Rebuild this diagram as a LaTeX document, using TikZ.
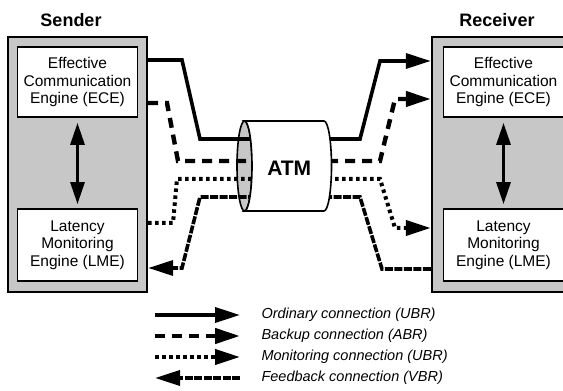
\documentclass[tikz,border=0pt]{standalone}
\usepackage{fontspec}
\setmainfont{Liberation Sans}
\usetikzlibrary{arrows.meta,calc}

\tikzset{
  station/.style={draw,line width=2.4pt,fill=black!22,minimum width=139pt,minimum height=255pt},
  engine/.style={draw,line width=1.8pt,fill=white,minimum width=120pt,minimum height=70pt,
    align=center,font=\fontsize{15.5}{17.5}\selectfont},
  head/.style={font=\fontsize{18}{20}\selectfont\bfseries},
  arrowed/.style={-{Triangle[length=25pt,width=15pt]}},
  ordinary/.style={arrowed,line width=3.6pt},
  backup/.style={arrowed,line width=4.4pt,dash pattern=on 10pt off 7pt},
  monitor/.style={arrowed,line width=4pt,dash pattern=on 3.5pt off 3.5pt},
  feedback/.style={arrowed,line width=3.6pt,dash pattern=on 8pt off 1.5pt},
  key/.style={anchor=west,font=\fontsize{14.5}{16}\selectfont\itshape}
}

\begin{document}
\begin{tikzpicture}[x=1pt,y=1pt]
 \path[use as bounding box,clip] (0,0) rectangle (563,391);

 % both ends of the link
 \node[station] (sender) at (77.5,226.5) {};
 \node[station] (receiver) at (501.5,226.5) {};
 \node[head] (sendtitle) at (71,371) {Sender};
 \node[head] (rectitle) at (497,371) {Receiver};
 \node[engine] (sece) at (77.5,309) {Effective\\Communication\\Engine (ECE)};
 \node[engine,minimum height=72pt] (slme) at (77.5,146) {Latency\\Monitoring\\Engine (LME)};
 \node[engine] (rece) at (503.5,309) {Effective\\Communication\\Engine (ECE)};
 \node[engine,minimum height=72pt] (rlme) at (503.5,146) {Latency\\Monitoring\\Engine (LME)};
 \foreach \s/\t in {sece/slme,rece/rlme}
  \draw[line width=3pt,{Triangle[length=22pt,width=14pt]}-{Triangle[length=22pt,width=14pt]},
   shorten <=5pt,shorten >=4pt] (\s) -- (\t);

 % ATM pipe, open end first
 \coordinate (cylL) at (244.5,225);
 \coordinate (cylR) at (324,225);
 \filldraw[fill=black!22,line width=1.6pt] (cylL) ellipse [x radius=7.5,y radius=45];

 % connections through the pipe
 \draw[ordinary,-] ($(sender.east|-sece)+(0,22)$) -- (182,331) -- (200,252) -- (256,252);
 \draw[ordinary] (328,252) -- (360,252) -- (380,330) -- ($(receiver.west|-rece)+(0,21)$);
 \draw[backup,-] ($(sender.east|-sece)+(0,-21)$) -- (167,288) -- (178,230) -- (256,230);
 \draw[backup] (328,230) -- (380,230) -- (395,292) -- ($(receiver.west|-rece)+(0,-17)$);
 \draw[monitor,-] ($(sender.east|-slme)+(0,22)$) -- (173,168) -- (177,212) -- (256,212);
 \draw[monitor] (328,212) -- (380,212) -- (395,163) -- ($(receiver.west|-rlme)+(0,17)$);
 \draw[feedback,-] ($(receiver.west|-rlme)+(0,-24)$) -- (382,122) -- (360,194) -- (328,194);
 \draw[feedback] (256,194) -- (200,194) -- (182,123) -- ($(sender.east|-slme)+(0,-23)$);

 \draw[fill=white,line width=1.6pt] ($(cylL)+(0,45)$) -- ($(cylR)+(0,45)$)
  arc[start angle=90,end angle=-90,x radius=7.5,y radius=45] -- ($(cylL)+(0,-45)$)
  arc[start angle=-90,end angle=90,x radius=7.5,y radius=45] -- cycle;
 \node[font=\fontsize{21}{24}\selectfont\bfseries] (atm) at ($(cylL)!.5!(cylR)+(5,-2)$) {ATM};

 % legend
 \foreach \st/\a/\b/\txt [count=\i] in {ordinary/155/240/Ordinary connection (UBR),
   backup/155/240/Backup connection (ABR),monitor/155/240/Monitoring connection (UBR),
   feedback/240/155/Feedback connection (VBR)}
 {\node[key] (key\i) at (258,97-21*\i) {\txt};
  \draw[\st] (\a,0 |- key\i) -- (\b,0 |- key\i);}
\end{tikzpicture}
\end{document}
